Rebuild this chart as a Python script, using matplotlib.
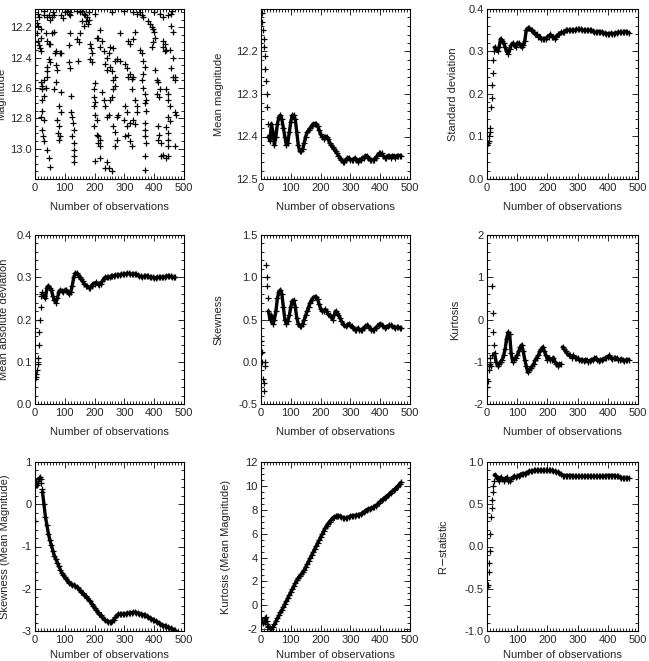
import matplotlib
matplotlib.use("Agg")
import numpy as np
import matplotlib.pyplot as plt
from matplotlib.ticker import MultipleLocator, FixedLocator

plt.rcParams['font.family'] = ['Liberation Sans', 'DejaVu Sans']
plt.rcParams['font.size'] = 8

# observation counts: sparse start, then every 5th observation
n_obs = list(range(1, 24, 2)) + list(range(25, 471, 5))

# raw light curve (observation number, magnitude)
mag_n = [10, 13, 8, 11, 19, 6, 19, 10, 13, 17, 19,
         30, 41, 47, 52, 58, 63, 36, 41, 47, 52, 58, 63,
         47, 52, 41, 41, 41, 19, 30, 24, 36, 24, 30, 24,
         24, 19, 30, 24, 28, 30, 41, 47, 50,
         63, 69, 74, 69, 66, 72, 83, 86,
         80, 86, 74, 80, 77, 83, 80, 86,
         113, 119, 119, 108, 119, 113, 113, 119,
         121, 121, 124, 128, 130, 124, 130, 132, 132, 132,
         141, 147, 152, 143,
         152, 158, 163, 169, 174, 180, 172, 177, 158, 163,
         186, 188, 191, 183, 191,
         200, 197, 199, 202, 197, 202, 208, 199,
         208, 213, 219, 210, 217, 202,
         208, 213, 219, 224, 219, 230, 241, 247, 236, 241, 252, 258,
         224, 230, 236, 241, 247, 252, 258, 263, 269, 263, 269,
         219, 241, 247, 236, 258,
         252, 263, 269, 274,
         263, 269, 274, 269, 280, 274,
         286, 313, 319, 330, 336,
         286, 302, 308, 313, 319, 324,
         302, 308, 297, 308, 313, 302, 319, 324, 319, 330, 336,
         324, 330, 336, 341, 341,
         352, 358, 363, 369, 363, 358, 363, 369, 374, 369, 374, 369, 369, 369, 374,
         369, 369,
         341, 352, 358, 363,
         380, 386, 391, 397, 399, 402, 397, 391,
         402, 408, 413, 408, 417, 419,
         413, 417, 413, 424, 424, 430,
         430, 436, 430, 436, 441,
         441, 447, 447, 452, 447, 452, 441, 447, 447, 447, 441, 447,
         458, 463, 452, 463, 458, 469, 469, 469, 474, 469, 463,
         447, 458, 419, 430,
         30, 60, 100, 140, 180, 200, 260, 300, 330, 400, 460, 88, 95]
mag_val = [12.11, 12.13, 12.17, 12.19, 12.21, 12.24, 12.27, 12.29, 12.32, 12.34, 12.36,
           12.12, 12.13, 12.12, 12.15, 12.13, 12.12, 12.24, 12.29, 12.31, 12.31, 12.24, 12.23,
           12.41, 12.43, 12.46, 12.49, 12.53, 12.56, 12.55, 12.59, 12.60, 12.61, 12.65, 12.68,
           12.75, 12.79, 12.81, 12.88, 12.92, 12.95, 13.01, 13.06, 13.12,
           12.61, 12.56, 12.48, 12.45, 12.37, 12.36, 12.37, 12.37,
           12.72, 12.76, 12.81, 12.85, 12.90, 12.92, 12.94, 12.63,
           12.11, 12.10, 12.12, 12.09, 12.24, 12.32, 12.43, 12.47,
           12.65, 12.76, 12.79, 12.83, 12.88, 12.92, 12.96, 13.01, 13.05, 13.09,
           12.28, 12.30, 12.24, 12.42,
           12.10, 12.09, 12.11, 12.12, 12.13, 12.15, 12.16, 12.18, 12.16, 12.19,
           12.31, 12.34, 12.37, 12.41, 12.43,
           12.57, 12.61, 12.66, 12.69, 12.72, 12.78, 12.81, 12.85,
           12.91, 12.92, 12.94, 12.96, 12.98, 13.08,
           12.27, 12.27, 12.22, 12.29, 12.33, 12.36, 12.40, 12.37, 12.44, 12.48, 12.46, 12.49,
           12.63, 12.68, 12.72, 12.79, 12.78, 12.68, 12.66, 12.61, 12.59, 12.55, 12.53,
           13.06, 13.09, 13.13, 13.13, 13.15,
           12.33, 12.34, 12.42, 12.41,
           12.85, 12.89, 12.94, 12.98, 12.78, 12.79,
           12.24, 12.29, 12.31, 12.28, 12.23,
           12.42, 12.44, 12.47, 12.53, 12.51, 12.54,
           12.72, 12.76, 12.81, 12.85, 12.91, 12.92, 12.95, 12.98, 12.83, 12.81, 12.84,
           12.61, 12.53, 12.68, 12.72, 12.76,
           12.35, 12.37, 12.42, 12.46, 12.51, 12.55, 12.60, 12.64, 12.68, 12.70, 12.75, 12.83, 12.88, 12.92, 12.96,
           13.05, 13.14,
           12.11, 12.10, 12.12, 12.13,
           12.16, 12.18, 12.20, 12.21, 12.23, 12.27, 12.30, 12.33,
           12.48, 12.55, 12.56, 12.64, 12.66, 12.61,
           12.85, 12.91, 12.94, 12.96, 13.05, 13.04,
           12.29, 12.31, 12.33, 12.36, 12.35,
           12.61, 12.64, 12.68, 12.72, 12.79, 12.82, 12.86, 12.90, 12.94, 12.98, 13.06, 13.05,
           12.19, 12.23, 12.35, 12.40, 12.47, 12.53, 12.55, 12.76, 12.78, 12.98, 12.53,
           12.12, 12.11, 12.11, 12.13,
           12.09, 12.10, 12.10, 12.09, 12.10, 12.11, 12.10, 12.09, 12.10, 12.10, 12.09, 12.12, 12.14]

mean_mag = [12.10, 12.11, 12.13, 12.15, 12.17, 12.19, 12.21, 12.24, 12.27, 12.30, 12.33, 12.37,
            12.40, 12.41, 12.37, 12.39, 12.42, 12.40, 12.37, 12.355, 12.35, 12.36,
            12.38, 12.40, 12.42, 12.415, 12.39, 12.365, 12.35, 12.35, 12.36, 12.39,
            12.42, 12.435, 12.435, 12.43, 12.415, 12.40, 12.39, 12.385, 12.38, 12.375,
            12.37, 12.37, 12.37, 12.375, 12.385, 12.395, 12.40, 12.405, 12.40, 12.40,
            12.405, 12.415, 12.42, 12.425, 12.43, 12.435, 12.44, 12.445, 12.45, 12.455,
            12.46, 12.46, 12.455, 12.45, 12.45, 12.455, 12.455, 12.455, 12.45, 12.455,
            12.46, 12.455, 12.455, 12.45, 12.45, 12.445, 12.445, 12.45, 12.455, 12.455,
            12.455, 12.455, 12.45, 12.445, 12.44, 12.44, 12.44, 12.445, 12.45, 12.45,
            12.445, 12.445, 12.45, 12.445, 12.445, 12.45, 12.445, 12.445, 12.445, 12.445]

std_dev = [0.08, 0.085, 0.09, 0.10, 0.11, 0.12, 0.17, 0.19, 0.22, 0.25, 0.28, 0.30,
           0.31, 0.305, 0.30, 0.31, 0.33, 0.325, 0.32, 0.31, 0.30, 0.295,
           0.305, 0.315, 0.32, 0.315, 0.31, 0.32, 0.32, 0.315, 0.31, 0.315,
           0.325, 0.35, 0.355, 0.355, 0.35, 0.35, 0.345, 0.34, 0.34, 0.335,
           0.335, 0.33, 0.33, 0.33, 0.33, 0.335, 0.335, 0.34, 0.335, 0.335,
           0.33, 0.335, 0.34, 0.34, 0.345, 0.345, 0.345, 0.35, 0.35, 0.35,
           0.35, 0.35, 0.35, 0.35, 0.352, 0.352, 0.352, 0.352, 0.35, 0.35,
           0.35, 0.35, 0.35, 0.35, 0.35, 0.348, 0.345, 0.345, 0.347, 0.347,
           0.347, 0.345, 0.343, 0.343, 0.342, 0.342, 0.342, 0.343, 0.342, 0.342,
           0.344, 0.344, 0.345, 0.345, 0.345, 0.345, 0.347, 0.347, 0.345, 0.344]

mean_abs_dev = [0.06, 0.065, 0.07, 0.08, 0.095, 0.11, 0.14, 0.17, 0.20, 0.23, 0.255, 0.265,
                0.26, 0.255, 0.25, 0.275, 0.28, 0.275, 0.27, 0.255, 0.245, 0.24,
                0.25, 0.265, 0.27, 0.268, 0.265, 0.27, 0.27, 0.265, 0.26, 0.265,
                0.28, 0.30, 0.31, 0.31, 0.305, 0.30, 0.295, 0.29, 0.285, 0.28,
                0.28, 0.275, 0.275, 0.28, 0.285, 0.285, 0.288, 0.285, 0.282, 0.285,
                0.29, 0.295, 0.30, 0.30, 0.30, 0.30, 0.302, 0.303, 0.303, 0.305,
                0.305, 0.305, 0.305, 0.307, 0.307, 0.308, 0.308, 0.309, 0.309, 0.308,
                0.307, 0.307, 0.308, 0.307, 0.305, 0.303, 0.302, 0.30, 0.302, 0.303,
                0.303, 0.302, 0.30, 0.30, 0.30, 0.298, 0.298, 0.30, 0.30, 0.30,
                0.30, 0.30, 0.30, 0.302, 0.303, 0.302, 0.302, 0.30, 0.30, 0.30]

skewness = [0.25, 0.12, 0.0, -0.2, -0.35, -0.25, -0.05, 0.0, 1.15, 1.0, 0.9, 0.75,
            0.6, 0.5, 0.55, 0.45, 0.5, 0.6, 0.75, 0.83, 0.85, 0.8,
            0.65, 0.5, 0.45, 0.48, 0.55, 0.65, 0.72, 0.73, 0.65, 0.52,
            0.45, 0.42, 0.42, 0.45, 0.5, 0.55, 0.6, 0.65, 0.7, 0.73,
            0.76, 0.77, 0.77, 0.74, 0.68, 0.63, 0.6, 0.6, 0.62, 0.6,
            0.56, 0.55, 0.53, 0.5, 0.55, 0.6, 0.58, 0.55, 0.52, 0.48,
            0.45, 0.43, 0.42, 0.44, 0.45, 0.43, 0.42, 0.40, 0.38, 0.38,
            0.40, 0.38, 0.37, 0.38, 0.40, 0.42, 0.43, 0.42, 0.40, 0.38,
            0.37, 0.38, 0.40, 0.42, 0.44, 0.45, 0.44, 0.42, 0.40, 0.41,
            0.42, 0.43, 0.43, 0.42, 0.41, 0.40, 0.41, 0.41, 0.40, 0.40]

kurtosis = [-1.6, -1.45, -1.2, -1.1, -1.05, -0.9, -1.1, -0.85, 0.8, 0.15, -0.3, -0.6,
            -0.8, -1.0, -1.1, -1.05, -1.0, -0.95, -0.85, -0.7, -0.45, -0.3,
            -0.35, -0.8, -1.0, -0.95, -0.9, -0.85, -0.75, -0.65, -0.6, -0.75,
            -0.95, -1.1, -1.25, -1.2, -1.15, -1.1, -1.05, -0.95, -0.9, -0.85,
            -0.75, -0.7, -0.65, -0.75, -0.85, -0.95, -0.9, -0.95, -0.95, -0.9,
            -1.0, -1.05, -1.1, -1.05, -1.05, -0.65, -0.7, -0.75, -0.8, -0.85,
            -0.85, -0.9, -0.85, -0.9, -0.9, -0.92, -0.95, -0.97, -0.95, -0.98,
            -0.95, -0.95, -1.0, -0.98, -0.95, -0.95, -0.92, -0.9, -0.95, -0.98,
            -0.97, -0.95, -0.93, -0.92, -0.9, -0.88, -0.85, -0.9, -0.93, -0.92,
            -0.9, -0.92, -0.95, -0.95, -0.93, -0.97, -0.98, -0.96, -0.95, -0.95]
kurtosis_jump = 250  # the kurtosis track restarts at this observation

skew_mean_mag = [-0.4, 0.45, 0.55, 0.45, 0.5, 0.55, 0.6, 0.62, 0.65, 0.6, 0.5, 0.35,
                 0.3, 0.0, -0.3, -0.5, -0.7, -0.85, -0.97, -1.1, -1.22, -1.3,
                 -1.38, -1.47, -1.55, -1.62, -1.68, -1.73, -1.77, -1.82, -1.86, -1.88,
                 -1.9, -1.92, -1.94, -1.95, -1.99, -2.03, -2.07, -2.11, -2.15, -2.18,
                 -2.22, -2.26, -2.3, -2.35, -2.4, -2.45, -2.5, -2.55, -2.59, -2.63,
                 -2.67, -2.71, -2.74, -2.76, -2.78, -2.78, -2.79, -2.77, -2.73, -2.68,
                 -2.63, -2.6, -2.6, -2.6, -2.6, -2.6, -2.59, -2.58, -2.58, -2.57,
                 -2.57, -2.56, -2.56, -2.57, -2.58, -2.59, -2.6, -2.61, -2.62, -2.63,
                 -2.65, -2.67, -2.69, -2.71, -2.73, -2.75, -2.77, -2.79, -2.81, -2.83,
                 -2.85, -2.87, -2.88, -2.89, -2.91, -2.92, -2.94, -2.95, -2.97, -2.98]

kurt_mean_mag = [-1.5, -1.3, -1.2, -1.5, -1.3, -1.2, -1.4, -1.1, -1.0, -1.3, -1.6, -1.7,
                 -1.8, -1.9, -2.0, -1.85, -1.6, -1.35, -1.1, -0.85, -0.6, -0.4,
                 -0.15, 0.1, 0.35, 0.6, 0.85, 1.1, 1.35, 1.6, 1.85, 2.1,
                 2.3, 2.45, 2.6, 2.75, 2.95, 3.2, 3.45, 3.7, 3.95, 4.2,
                 4.45, 4.7, 4.95, 5.2, 5.45, 5.7, 5.95, 6.2, 6.45, 6.65,
                 6.85, 7.0, 7.15, 7.3, 7.4, 7.45, 7.5, 7.5, 7.45, 7.4,
                 7.35, 7.3, 7.3, 7.35, 7.4, 7.45, 7.5, 7.5, 7.52, 7.55,
                 7.55, 7.6, 7.65, 7.7, 7.8, 7.9, 8.0, 8.05, 8.1, 8.15,
                 8.2, 8.25, 8.35, 8.45, 8.55, 8.7, 8.8, 8.9, 9.0, 9.1,
                 9.2, 9.3, 9.4, 9.55, 9.65, 9.75, 9.9, 10.0, 10.15, 10.3]

r_statistic = [-0.48, -0.45, -0.3, -0.2, -0.05, 0.15, 0.35, 0.45, 0.55, 0.65, 0.72, 0.78,
               0.85, 0.83, 0.8, 0.78, 0.82, 0.8, 0.78, 0.8, 0.82, 0.78,
               0.77, 0.8, 0.82, 0.83, 0.82, 0.83, 0.84, 0.85, 0.86, 0.86,
               0.86, 0.87, 0.88, 0.89, 0.89, 0.89, 0.9, 0.9, 0.9, 0.9,
               0.9, 0.9, 0.9, 0.9, 0.9, 0.9, 0.9, 0.9, 0.9, 0.89,
               0.89, 0.88, 0.88, 0.87, 0.86, 0.84, 0.84, 0.84, 0.84, 0.84,
               0.84, 0.84, 0.83, 0.83, 0.83, 0.83, 0.83, 0.83, 0.83, 0.83,
               0.83, 0.83, 0.83, 0.83, 0.83, 0.83, 0.83, 0.83, 0.83, 0.83,
               0.83, 0.83, 0.83, 0.83, 0.84, 0.84, 0.84, 0.84, 0.84, 0.84,
               0.83, 0.83, 0.83, 0.82, 0.81, 0.81, 0.81, 0.81, 0.81, 0.81]

# (x, y, ylabel, ylim, yticks, minor step, ylabel x-offset)
panels = [
    (mag_n, mag_val, 'Magnitude', (13.2, 12.08), [12.2, 12.4, 12.6, 12.8, 13.0], 0.05, -0.195),
    (n_obs, mean_mag, 'Mean magnitude', (12.5, 12.1), [12.2, 12.3, 12.4, 12.5], 0.02, -0.25),
    (n_obs, std_dev, 'Standard deviation', (0.0, 0.4), [0.0, 0.1, 0.2, 0.3, 0.4], 0.02, -0.19),
    (n_obs, mean_abs_dev, 'Mean absolute deviation', (0.0, 0.4), [0.0, 0.1, 0.2, 0.3, 0.4], 0.02, -0.175),
    (n_obs, skewness, 'Skewness', (-0.5, 1.5), [-0.5, 0.0, 0.5, 1.0, 1.5], 0.1, -0.25),
    (n_obs, kurtosis, 'Kurtosis', (-2, 2), [-2, -1, 0, 1, 2], 0.2, -0.18),
    (n_obs, skew_mean_mag, 'Skewness (Mean Magnitude)', (-3, 1), [-3, -2, -1, 0, 1], 0.2, -0.17),
    (n_obs, kurt_mean_mag, 'Kurtosis (Mean Magnitude)', (-2.15, 12), [-2, 0, 2, 4, 6, 8, 10, 12], 0.5, -0.2),
    (n_obs, r_statistic, 'R$-$statistic', (-1.0, 1.0), [-1.0, -0.5, 0.0, 0.5, 1.0], 0.1, -0.25),
]

W, H = 649, 661
col_px = [(35, 184), (261, 410), (487, 638)]
row_px = [(9, 179), (235, 404), (462, 631)]
xlab_off = [-0.135, -0.135, -0.115]
yfmt = ['%.1f', '%.1f', '%.1f', '%.1f', '%.1f', '%d', '%d', '%d', '%.1f']

fig = plt.figure(figsize=(W / 100, H / 100), dpi=100)
for i, (x, y, label, ylim, yticks, yminor, lx) in enumerate(panels):
    c0, c1 = col_px[i % 3]
    r0, r1 = row_px[i // 3]
    ax = fig.add_axes([c0 / W, 1 - r1 / H, (c1 - c0) / W, (r1 - r0) / H])
    x = np.asarray(x)
    y = np.asarray(y)
    if i > 0:
        # the running statistic is sampled at every observation, so the
        # crosses merge into a thick band once past the first few points
        edges = [25, kurtosis_jump if label == 'Kurtosis' else 10000, 10000]
        for a, b in zip(edges[:-1], edges[1:]):
            m = (x >= a) & (x < b)
            ax.plot(x[m], y[m], '-', color='black', lw=2.4,
                    solid_capstyle='round', solid_joinstyle='round')
    ax.plot(x, y, '+', color='black', ms=4.6, mew=0.9)
    ax.set_xlim(0, 500)
    ax.set_ylim(*ylim)
    ax.xaxis.set_major_locator(MultipleLocator(100))
    ax.xaxis.set_minor_locator(MultipleLocator(10))
    ax.yaxis.set_major_locator(FixedLocator(yticks))
    ax.yaxis.set_minor_locator(MultipleLocator(yminor))
    ax.set_yticklabels([yfmt[i] % t for t in yticks])
    ax.tick_params(which='both', direction='in', top=True, right=True,
                   colors='0.15', labelsize=8, width=0.7)
    ax.tick_params(which='major', length=4, pad=3)
    ax.tick_params(axis='y', which='major', pad=2.5)
    ax.tick_params(which='minor', length=2)
    for s in ax.spines.values():
        s.set_linewidth(0.8)
    ax.set_xlabel('Number of observations', color='0.15', fontsize=8)
    ax.set_ylabel(label, color='0.15', fontsize=8)
    ax.xaxis.set_label_coords(0.5, xlab_off[i // 3])
    ax.yaxis.set_label_coords(lx, 0.5)

fig.savefig('out.png', dpi=100)
